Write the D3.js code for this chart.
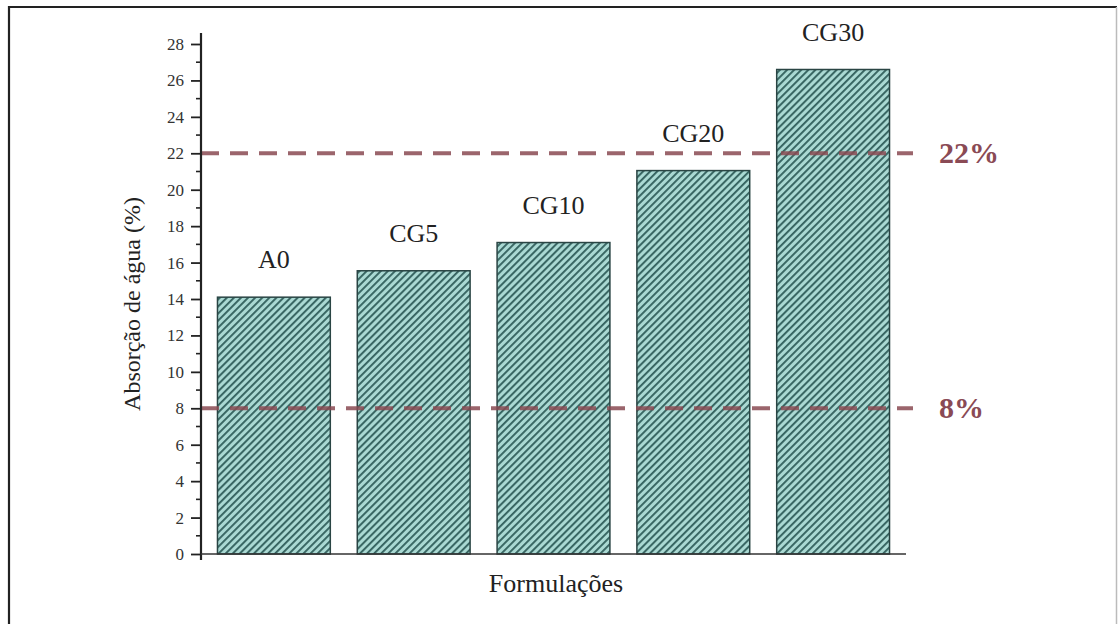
<!DOCTYPE html>
<html><head><meta charset="utf-8">
<script src="https://cdn.jsdelivr.net/npm/d3@7"></script>
<style>html,body{margin:0;padding:0;background:#fff;}svg{display:block;} text{font-family:'Liberation Serif','DejaVu Serif',serif;}</style>
</head><body>
<script>
const categories = ["A0", "CG5", "CG10", "CG20", "CG30"];
const values = [14.1, 15.55, 17.1, 21.05, 26.6];
const yTicks = [0, 2, 4, 6, 8, 10, 12, 14, 16, 18, 20, 22, 24, 26, 28];
const limitValues = [22, 8];
const limitLabels = ["22%", "8%"];
const xTitle = "Formulações";
const yTitle = "Absorção de água (%)";

const W = 1118, H = 624;
const svg = d3.select("body").append("svg").attr("width", W).attr("height", H);

// frame
svg.append("line").attr("x1", 9).attr("x2", 9).attr("y1", 6).attr("y2", H).attr("stroke", "#222").attr("stroke-width", 2.2);
svg.append("line").attr("x1", 8).attr("x2", 1117).attr("y1", 7).attr("y2", 7).attr("stroke", "#222").attr("stroke-width", 2.2);
svg.append("line").attr("x1", 1116.5).attr("x2", 1116.5).attr("y1", 7).attr("y2", H).attr("stroke", "#bbb").attr("stroke-width", 1.5);

const defs = svg.append("defs");
const pat = defs.append("pattern").attr("id", "hatch").attr("patternUnits", "userSpaceOnUse")
  .attr("width", 5).attr("height", 5).attr("patternTransform", "rotate(45)");
pat.append("rect").attr("width", 5).attr("height", 5).attr("fill", "#aad9d3");
pat.append("rect").attr("x", 0).attr("width", 1.9).attr("height", 5).attr("fill", "#34625f");

const x0 = 201, yTop = 44, yBot = 554;
const y = d3.scaleLinear().domain([0, 28]).range([yBot, yTop]);
const x = d3.scaleBand().domain(categories).range([203.5, 903.5]).paddingInner(0.193).paddingOuter(0.1);

// bars
svg.append("g").selectAll("rect").data(categories).join("rect")
  .attr("x", d => x(d))
  .attr("y", (d, i) => y(values[i]))
  .attr("width", x.bandwidth())
  .attr("height", (d, i) => y(0) - y(values[i]))
  .attr("fill", "url(#hatch)")
  .attr("stroke", "#2a4544").attr("stroke-width", 1.5);

// bar labels
svg.append("g").selectAll("text").data(categories).join("text")
  .attr("x", d => x(d) + x.bandwidth() / 2)
  .attr("y", (d, i) => y(values[i]) - 29)
  .attr("text-anchor", "middle")
  .attr("font-size", 26).attr("fill", "#222")
  .text(d => d);

// limit lines
svg.append("g").selectAll("line").data(limitValues).join("line")
  .attr("x1", x0).attr("x2", 913)
  .attr("y1", d => y(d)).attr("y2", d => y(d))
  .attr("stroke", "#8a4a52").attr("stroke-width", 4).attr("stroke-dasharray", "18,11")
  .attr("stroke-opacity", 0.85);
svg.append("g").selectAll("text").data(limitValues).join("text")
  .attr("x", 939).attr("y", d => y(d) + 10)
  .attr("font-size", 30).attr("font-weight", "bold")
  .attr("fill", "#8a4a55")
  .text((d, i) => limitLabels[i]);

// y axis
const yAxis = d3.axisLeft(y).tickValues(yTicks).tickSize(10).tickPadding(7).tickFormat(d3.format("d"));
const gy = svg.append("g").attr("transform", `translate(${x0},0)`).call(yAxis);
gy.select(".domain").remove();
gy.selectAll(".tick line").attr("stroke", "#222").attr("stroke-width", 1.8);
gy.selectAll(".tick text").attr("font-family", null).attr("font-size", 17).attr("fill", "#333");
// minor ticks
const minor = d3.range(1, 28, 2);
svg.append("g").selectAll("line").data(minor).join("line")
  .attr("x1", x0 - 5).attr("x2", x0).attr("y1", d => y(d)).attr("y2", d => y(d))
  .attr("stroke", "#222").attr("stroke-width", 1.6);
svg.append("line").attr("x1", x0).attr("x2", x0).attr("y1", 33).attr("y2", yBot + 6)
  .attr("stroke", "#222").attr("stroke-width", 2.2);
// x axis line
svg.append("line").attr("x1", x0).attr("x2", 906).attr("y1", yBot).attr("y2", yBot)
  .attr("stroke", "#333").attr("stroke-width", 1.5);

// titles
svg.append("text").attr("x", 556).attr("y", 592).attr("text-anchor", "middle")
  .attr("font-size", 26).attr("fill", "#222").text(xTitle);
svg.append("text").attr("transform", "translate(140,304) rotate(-90)").attr("text-anchor", "middle")
  .attr("font-size", 24).attr("fill", "#222").text(yTitle);
</script>
</body></html>
